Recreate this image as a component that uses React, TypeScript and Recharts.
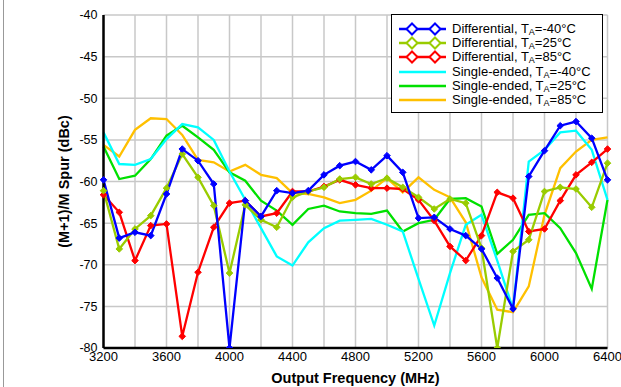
import { CartesianGrid, Line, LineChart, XAxis, YAxis } from "recharts";

const freqs = [
  3200, 3300, 3400, 3500, 3600, 3700, 3800, 3900, 4000, 4100, 4200, 4300, 4400, 4500, 4600, 4700, 4800,
  4900, 5000, 5100, 5200, 5300, 5400, 5500, 5600, 5700, 5800, 5900, 6000, 6100, 6200, 6300, 6400,
];

const diffM40 = [
  -59.8, -66.8, -66.1, -66.5, -61.5, -56.1, -57.5, -60.3, -80, -62.3, -64.2, -61.1, -61.4, -61.1, -59.2, -58.1, -57.6,
  -58.6, -56.9, -58.9, -64.4, -64.3, -65.7, -66.5, -68.1, -71.6, -75.3, -59.4, -56.3, -53.3, -52.8, -54.8, -59.8,
];
const diff25 = [
  -61.1, -68.1, -65.7, -64.1, -60.8, -56.7, -59.5, -62.9, -71, -62.8, -64.6, -65.5, -61.9, -61.2, -60.7, -59.7, -59.5,
  -60.3, -59.6, -60.7, -61.9, -63.3, -62.1, -62.6, -68, -80, -68.4, -67, -61.2, -60.7, -60.9, -63.1, -57.8,
];
const diff85 = [
  -61.6, -63.7, -69.5, -65.3, -65.1, -78.6, -70.9, -65.5, -62.6, -62.3, -64.2, -63.8, -61.2, -61.2, -60.6, -59.8, -60.4,
  -60.8, -60.8, -60.9, -62.2, -64.7, -67.8, -69.5, -66.5, -61.3, -62, -66, -65.7, -62.3, -59.2, -57.7, -56.1,
];
const seM40 = [
  -54.1, -57.9, -58, -57.3, -54.9, -53.1, -53.5, -55, -58.8, -62.2, -65.6, -69, -70.1, -67.3, -65.6, -64.7, -64.6,
  -64.5, -65.2, -66, -71.7, -77.3, -71, -65.2, -64, -69.5, -75.3, -57.6, -56.2, -54.1, -53.9, -56.2, -62.2,
];
const se25 = [
  -55.8, -59.7, -59.3, -57.3, -54.5, -53.3, -54.7, -56.2, -58.9, -59.9, -62.3, -63.5, -65.2, -63.3, -62.9, -63.6, -63.8,
  -63.9, -63.5, -66, -65, -64.6, -62.1, -62, -63, -68.7, -67, -64, -63.8, -65.6, -68.6, -72.9, -62.2,
];
const se85 = [
  -55.6, -57, -53.8, -52.4, -52.5, -54.4, -57.4, -57.7, -58.8, -58, -59.2, -59.6, -61.4, -61.5, -61.9, -62.6, -62.2,
  -61.1, -59.6, -61.3, -59.5, -61, -61.9, -64.9, -71.5, -75.4, -75.7, -72.6, -64, -58.4, -56.4, -55, -54.7,
];

const xTicks = [3200, 3400, 3600, 3800, 4000, 4200, 4400, 4600, 4800, 5000, 5200, 5400, 5600, 5800, 6000, 6200, 6400];
const xLabels = [3200, 3600, 4000, 4400, 4800, 5200, 5600, 6000, 6400];
const yTicks = [-80, -75, -70, -65, -60, -55, -50, -45, -40];

const series = [
  { key: "d40", values: diffM40, color: "#0000ff", marker: true, kind: "Differential", temp: "-40" },
  { key: "d25", values: diff25, color: "#99cc00", marker: true, kind: "Differential", temp: "25" },
  { key: "d85", values: diff85, color: "#ff0000", marker: true, kind: "Differential", temp: "85" },
  { key: "s40", values: seM40, color: "#00ffff", marker: false, kind: "Single-ended", temp: "-40" },
  { key: "s25", values: se25, color: "#00e000", marker: false, kind: "Single-ended", temp: "25" },
  { key: "s85", values: se85, color: "#ffc000", marker: false, kind: "Single-ended", temp: "85" },
];

const data = freqs.map((f, i) => {
  const row: Record<string, number> = { f };
  series.forEach((s) => (row[s.key] = s.values[i]));
  return row;
});

const font = '"Liberation Sans", Arial, sans-serif';

function diamondDot(color: string) {
  return (props: any) => {
    const { cx, cy, index } = props;
    if (cx == null || cy == null) return <g key={index} />;
    const r = 3.3;
    return (
      <path
        key={index}
        d={`M${cx},${cy - r}L${cx + r},${cy}L${cx},${cy + r}L${cx - r},${cy}Z`}
        fill={color}
        stroke={color}
        strokeWidth={1}
      />
    );
  };
}

function XTick({ x, y, payload }: any) {
  if (!xLabels.includes(payload.value)) return <g />;
  return (
    <text x={x} y={y + 13} textAnchor="middle" fontSize={13} fontFamily={font} fill="#000">
      {payload.value}
    </text>
  );
}

function LegendBox() {
  return (
    <div
      style={{
        position: "absolute",
        left: 391,
        top: 14,
        width: 212,
        height: 99,
        border: "1.5px solid #000",
        background: "#fff",
        boxSizing: "border-box",
        fontFamily: font,
        fontSize: 13,
        paddingTop: 7,
      }}
    >
      {series.map((s) => (
        <div key={s.key} style={{ display: "flex", alignItems: "center", height: 14.2 }}>
          <svg width={58} height={14} style={{ marginLeft: 2, flexShrink: 0 }}>
            <line x1={5} y1={7} x2={52} y2={7} stroke={s.color} strokeWidth={2.5} />
            {s.marker &&
              [18, 41].map((cx) => (
                <path
                  key={cx}
                  d={`M${cx},1.5L${cx + 5.5},7L${cx},12.5L${cx - 5.5},7Z`}
                  fill="#fff"
                  stroke={s.color}
                  strokeWidth={2}
                />
              ))}
          </svg>
          <span style={{ whiteSpace: "nowrap", lineHeight: "14px" }}>
            {s.kind}, T<sub style={{ fontSize: 9, verticalAlign: "-2px", lineHeight: 0 }}>A</sub>={s.temp}°C
          </span>
        </div>
      ))}
    </div>
  );
}

export default function App() {
  return (
    <div style={{ position: "absolute", left: 0, top: 0, width: 621, height: 387, background: "#fff" }}>
      <div style={{ position: "absolute", left: 3, top: 0, width: 1, height: 387, background: "#999" }} />
      <LineChart
        width={621}
        height={387}
        data={data}
        margin={{ top: 15, right: 13.5, bottom: 0, left: 0.5 }}
      >
        <CartesianGrid stroke="#c8c8c8" strokeWidth={1.5} />
        <XAxis
          dataKey="f"
          type="number"
          domain={[3200, 6400]}
          ticks={xTicks}
          interval={0}
          height={39}
          tick={<XTick />}
          tickLine={false}
          tickSize={0}
          tickMargin={0}
          axisLine={{ stroke: "#000", strokeWidth: 2.5 }}
          label={{
            value: "Output Frequency (MHz)",
            position: "insideBottom",
            offset: 4,
            style: { fontFamily: font, fontSize: 14.5, fontWeight: "bold", fill: "#000" },
          }}
        />
        <XAxis
          xAxisId="top"
          orientation="top"
          dataKey="f"
          type="number"
          domain={[3200, 6400]}
          height={0}
          tick={false}
          tickLine={false}
          axisLine={{ stroke: "#000", strokeWidth: 2.5 }}
        />
        <YAxis
          type="number"
          domain={[-80, -40]}
          ticks={yTicks}
          interval={0}
          width={103}
          allowDataOverflow
          tickLine={false}
          tickSize={0}
          tickMargin={6}
          tick={{ fontSize: 12.5, fontFamily: font, fill: "#000" }}
          axisLine={{ stroke: "#000", strokeWidth: 2.5 }}
          label={(props: any) => {
            const vb = props.viewBox;
            const cx = vb.x + 63;
            const cy = vb.y + vb.height / 2;
            return (
              <text
                x={cx}
                y={cy}
                transform={`rotate(-90, ${cx}, ${cy})`}
                textAnchor="middle"
                dominantBaseline="central"
                fontFamily={font}
                fontSize={14.5}
                fontWeight="bold"
                fill="#000"
              >
                (M+1)/M Spur (dBc)
              </text>
            );
          }}
        />
        <YAxis
          yAxisId="right"
          orientation="right"
          type="number"
          domain={[-80, -40]}
          width={0}
          tick={false}
          tickLine={false}
          axisLine={{ stroke: "#000", strokeWidth: 2.5 }}
        />
        {[...series].reverse().map((s) => (
          <Line
            key={s.key}
            dataKey={s.key}
            type="linear"
            stroke={s.color}
            strokeWidth={2.3}
            dot={s.marker ? diamondDot(s.color) : false}
            activeDot={false}
            isAnimationActive={false}
          />
        ))}
      </LineChart>
      <LegendBox />
    </div>
  );
}
